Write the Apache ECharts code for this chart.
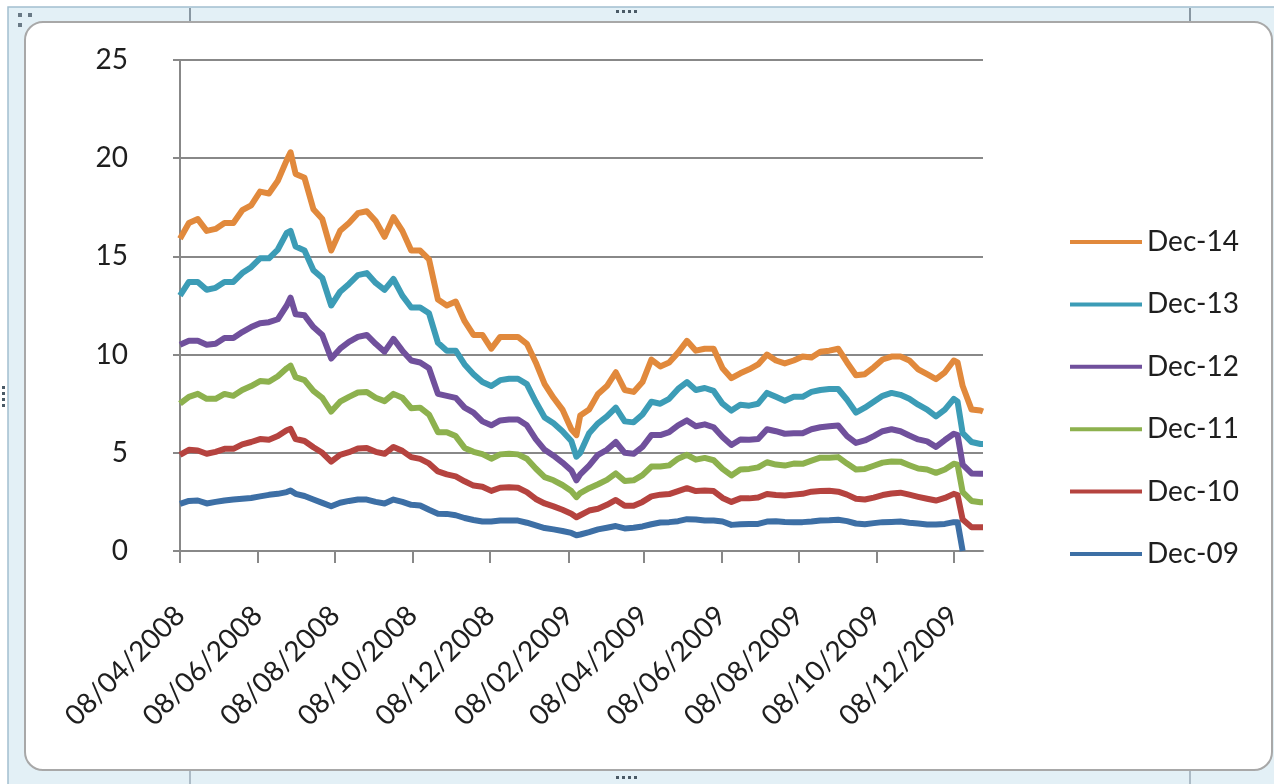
<!DOCTYPE html>
<html><head><meta charset="utf-8">
<script src="https://cdn.jsdelivr.net/npm/echarts@6/dist/echarts.min.js"></script>
<style>html,body{margin:0;padding:0;background:#fff;}#c{width:1274px;height:784px;}</style>
</head><body><div id="c"></div>
<script>
const dates = ['2008-04-08','2008-04-15','2008-04-22','2008-04-29','2008-05-06','2008-05-13','2008-05-20','2008-05-27','2008-06-03','2008-06-10','2008-06-17','2008-06-24','2008-07-01','2008-07-04','2008-07-08','2008-07-15','2008-07-22','2008-07-29','2008-08-05','2008-08-12','2008-08-19','2008-08-26','2008-09-02','2008-09-09','2008-09-16','2008-09-23','2008-09-30','2008-10-07','2008-10-14','2008-10-21','2008-10-28','2008-11-04','2008-11-11','2008-11-18','2008-11-25','2008-12-02','2008-12-09','2008-12-16','2008-12-23','2008-12-30','2009-01-06','2009-01-13','2009-01-20','2009-01-27','2009-02-03','2009-02-10','2009-02-14','2009-02-17','2009-02-24','2009-03-03','2009-03-10','2009-03-17','2009-03-24','2009-03-31','2009-04-07','2009-04-14','2009-04-21','2009-04-28','2009-05-05','2009-05-12','2009-05-19','2009-05-26','2009-06-02','2009-06-09','2009-06-16','2009-06-23','2009-06-30','2009-07-07','2009-07-14','2009-07-21','2009-07-28','2009-08-04','2009-08-11','2009-08-18','2009-08-25','2009-09-01','2009-09-08','2009-09-15','2009-09-22','2009-09-29','2009-10-06','2009-10-13','2009-10-20','2009-10-27','2009-11-03','2009-11-10','2009-11-17','2009-11-24','2009-12-01','2009-12-08','2009-12-11','2009-12-15','2009-12-22','2009-12-29','2009-12-31'];

const dec14 = [15.9,16.7,16.9,16.3,16.4,16.7,16.7,17.35,17.6,18.3,18.2,18.85,19.9,
  20.3,
  19.2,19.0,17.4,16.9,15.3,16.3,16.7,17.2,17.3,16.8,16.0,17.0,16.3,15.3,15.3,14.85,12.8,12.5,12.7,11.7,11.0,11.0,10.3,10.9,10.9,10.9,10.55,9.6,8.5,7.8,7.2,6.2,
  5.9,
  6.9,7.2,8.0,8.4,9.1,8.2,8.1,8.6,9.75,9.4,9.6,10.1,10.7,10.2,10.3,10.3,9.3,8.8,9.05,9.25,9.5,10.0,9.7,9.55,9.7,9.9,9.85,10.15,10.2,10.3,9.6,8.95,9.0,9.35,9.75,9.9,9.9,9.7,9.25,9.0,8.75,9.1,9.7,
  9.6,
  8.4,7.2,7.15,7.1];
const dec13 = [13.0,13.7,13.7,13.3,13.4,13.7,13.7,14.15,14.45,14.9,14.9,15.35,16.2,
  16.3,
  15.5,15.3,14.3,13.9,12.5,13.2,13.6,14.05,14.15,13.65,13.3,13.85,13.0,12.4,12.4,12.1,10.6,10.2,10.2,9.5,9.0,8.6,8.4,8.7,8.77,8.77,8.5,7.6,6.8,6.5,6.1,5.6,
  4.8,
  5.0,6.0,6.5,6.85,7.3,6.6,6.55,6.95,7.6,7.5,7.75,8.25,8.6,8.2,8.3,8.15,7.5,7.15,7.45,7.4,7.5,8.05,7.85,7.65,7.85,7.85,8.1,8.2,8.25,8.25,7.7,7.05,7.3,7.6,7.9,8.05,7.95,7.75,7.45,7.2,6.85,7.2,7.75,
  7.6,
  6.0,5.55,5.45,5.45];
const dec12 = [10.5,10.7,10.7,10.5,10.55,10.85,10.85,11.15,11.4,11.6,11.65,11.8,12.5,
  12.9,
  12.05,12.0,11.4,11.0,9.8,10.3,10.65,10.9,11.0,10.55,10.15,10.8,10.2,9.7,9.6,9.3,8.0,7.9,7.8,7.3,7.05,6.6,6.4,6.65,6.7,6.7,6.4,5.7,5.15,4.85,4.5,4.1,
  3.6,
  3.9,4.35,4.9,5.15,5.55,5.0,4.95,5.3,5.9,5.9,6.05,6.4,6.65,6.35,6.45,6.3,5.8,5.4,5.68,5.66,5.7,6.2,6.1,5.97,6.0,6.0,6.2,6.3,6.35,6.39,5.85,5.5,5.63,5.85,6.1,6.2,6.1,5.88,5.68,5.58,5.3,5.65,5.97,
  5.9,
  4.4,3.95,3.93,3.93];
const dec11 = [7.5,7.85,8.0,7.75,7.75,8.0,7.9,8.2,8.4,8.65,8.62,8.9,9.3,
  9.44,
  8.85,8.7,8.15,7.8,7.1,7.6,7.85,8.07,8.1,7.8,7.63,8.0,7.8,7.27,7.3,6.95,6.05,6.05,5.85,5.25,5.05,4.93,4.7,4.92,4.95,4.92,4.7,4.2,3.76,3.6,3.36,3.05,
  2.74,
  2.95,3.2,3.4,3.62,3.95,3.56,3.6,3.86,4.3,4.3,4.36,4.7,4.9,4.65,4.74,4.62,4.18,3.85,4.15,4.18,4.26,4.52,4.4,4.35,4.45,4.44,4.6,4.75,4.75,4.78,4.45,4.15,4.18,4.34,4.5,4.56,4.55,4.37,4.2,4.15,3.98,4.15,4.44,
  4.4,
  3.0,2.55,2.48,2.48];
const dec10 = [4.9,5.15,5.12,4.95,5.05,5.2,5.2,5.43,5.55,5.7,5.66,5.85,6.15,
  6.22,
  5.7,5.6,5.28,5.0,4.55,4.9,5.03,5.22,5.25,5.05,4.95,5.3,5.1,4.78,4.69,4.46,4.05,3.9,3.8,3.55,3.33,3.27,3.06,3.22,3.25,3.22,3.0,2.65,2.42,2.27,2.1,1.9,
  1.72,
  1.82,2.06,2.15,2.35,2.6,2.3,2.3,2.5,2.78,2.87,2.9,3.05,3.2,3.05,3.08,3.05,2.7,2.5,2.68,2.68,2.72,2.9,2.85,2.83,2.87,2.91,3.02,3.05,3.07,3.02,2.87,2.66,2.62,2.72,2.85,2.93,2.97,2.87,2.76,2.66,2.57,2.7,2.91,
  2.85,
  1.6,1.21,1.21,1.21];
const dec09 = [2.4,2.55,2.57,2.42,2.5,2.57,2.62,2.66,2.7,2.78,2.86,2.91,3.0,
  3.08,
  2.91,2.8,2.62,2.45,2.28,2.46,2.55,2.62,2.62,2.5,2.42,2.62,2.5,2.35,2.32,2.1,1.9,1.89,1.82,1.68,1.58,1.5,1.5,1.55,1.55,1.55,1.44,1.3,1.17,1.1,1.02,0.92,
  0.8,
  0.84,0.96,1.1,1.18,1.27,1.15,1.18,1.25,1.36,1.45,1.47,1.52,1.62,1.6,1.55,1.55,1.5,1.33,1.36,1.38,1.38,1.5,1.52,1.48,1.47,1.47,1.5,1.55,1.56,1.59,1.52,1.4,1.36,1.42,1.47,1.48,1.5,1.44,1.4,1.35,1.35,1.38,1.47,
  1.47,
  0,null,null,null];

const seriesNames = ['Dec-09','Dec-10','Dec-11','Dec-12','Dec-13','Dec-14'];
const seriesValues = [dec09, dec10, dec11, dec12, dec13, dec14];
const seriesColors = ['#3d6fa5','#b5433f','#8db14e','#70509c','#3c9cb6','#e1893c'];
const legendOrder = ['Dec-14','Dec-13','Dec-12','Dec-11','Dec-10','Dec-09'];
const tickDates = ['2008-04-08','2008-06-08','2008-08-08','2008-10-08','2008-12-08','2009-02-08','2009-04-08','2009-06-08','2009-08-08','2009-10-08','2009-12-08'];
const tickLabels = ['08/04/2008','08/06/2008','08/08/2008','08/10/2008','08/12/2008','08/02/2009','08/04/2009','08/06/2009','08/08/2009','08/10/2009','08/12/2009'];
const xMin = '2008-04-08', xMax = '2009-12-31';

const P = d => Date.UTC(+d.slice(0,4), +d.slice(5,7) - 1, +d.slice(8,10));
const tickTs = tickDates.map(P);
const FONT = 'Lato, "Open Sans", sans-serif';
const AX = '#888888';

const gripDots = [];
[616,622,628,634].forEach(x => {
  gripDots.push({type:'rect', z:-5, silent:true, shape:{x:x, y:10, width:3, height:3}, style:{fill:'#4a5a66'}});
  gripDots.push({type:'rect', z:-5, silent:true, shape:{x:x, y:776, width:3, height:3}, style:{fill:'#4a5a66'}});
});
[386,392,398,404].forEach(y => {
  gripDots.push({type:'rect', z:-5, silent:true, shape:{x:2, y:y, width:3, height:3}, style:{fill:'#4a5a66'}});
});
[[18,13],[28,13],[18,23]].forEach(p => {
  gripDots.push({type:'rect', z:-5, silent:true, shape:{x:p[0], y:p[1], width:4, height:4}, style:{fill:'#6a7a86'}});
});
[190, 1190].forEach(x => {
  gripDots.push({type:'line', z:-5, silent:true, shape:{x1:x, y1:8, x2:x, y2:21}, style:{stroke:'#6a7a86', lineWidth:1.5}});
  gripDots.push({type:'line', z:-5, silent:true, shape:{x1:x, y1:771, x2:x, y2:784}, style:{stroke:'#9aaab6', lineWidth:1.5}});
});

const chart = echarts.init(document.getElementById('c'), null, {renderer:'canvas'});
chart.setOption({
  animation: false,
  backgroundColor: '#ffffff',
  graphic: [
    {type:'rect', z:-10, silent:true, shape:{x:8, y:7, width:1290, height:800}, style:{fill:'#e3f0f6', stroke:'#a3bfcf', lineWidth:1.5}},
    {type:'rect', z:-9, silent:true, shape:{x:25, y:22, width:1247, height:748, r:18}, style:{fill:'#ffffff', stroke:'#a8a8a8', lineWidth:2}},
    ...gripDots
  ],
  grid: {left:180, right:291, top:60, bottom:233},
  legend: {
    orient:'vertical', left:1065, top:222, itemWidth:72, itemHeight:4, itemGap:32.4, icon:'rect',
    data: legendOrder,
    textStyle:{fontFamily:FONT, fontSize:28, color:'#1e1e1e', lineHeight:30}
  },
  xAxis: {
    type:'value', min:P(xMin), max:P(xMax),
    axisLine:{show:true, lineStyle:{color:AX, width:2}},
    axisTick:{show:true, length:12, customValues:tickTs, lineStyle:{color:AX, width:2}},
    axisLabel:{customValues:tickTs, rotate:45, margin:60, verticalAlign:'middle',
      fontFamily:FONT, fontSize:28, color:'#1e1e1e', lineHeight:30,
      formatter: v => { const i = tickTs.indexOf(+v); return i >= 0 ? tickLabels[i] : ''; }},
    splitLine:{show:false}, minorTick:{show:false}
  },
  yAxis: {
    type:'value', min:0, max:25, interval:5,
    axisLine:{show:true, lineStyle:{color:AX, width:2}},
    axisTick:{show:true, length:7, lineStyle:{color:AX, width:2}},
    axisLabel:{margin:52, fontFamily:FONT, fontSize:28, color:'#1e1e1e'},
    splitLine:{show:true, lineStyle:{color:AX, width:2}}
  },
  series: seriesNames.map((name, s) => ({
    name: name, type:'line', symbol:'none', showSymbol:false, connectNulls:false,
    color: seriesColors[s],
    lineStyle:{width:6, color:seriesColors[s], join:'round'},
    z: 2 + s,
    data: dates.map((d, i) => [P(d), seriesValues[s][i]])
  }))
});
</script></body></html>
